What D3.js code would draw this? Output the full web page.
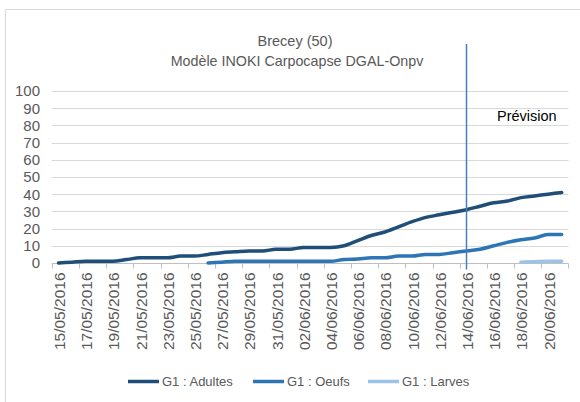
<!DOCTYPE html>
<html>
<head>
<meta charset="utf-8">
<script src="https://cdn.jsdelivr.net/npm/d3@7"></script>
<style>
  body { margin: 0; background: #fff; }
  svg { font-family: "Liberation Sans", Arial, sans-serif; }
</style>
</head>
<body>
<svg id="chart"></svg>
<script>
// categories: one per day
var dates = ["15/05/2016","16/05/2016","17/05/2016","18/05/2016","19/05/2016","20/05/2016",
  "21/05/2016","22/05/2016","23/05/2016","24/05/2016","25/05/2016","26/05/2016","27/05/2016",
  "28/05/2016","29/05/2016","30/05/2016","31/05/2016","01/06/2016","02/06/2016","03/06/2016",
  "04/06/2016","05/06/2016","06/06/2016","07/06/2016","08/06/2016","09/06/2016","10/06/2016",
  "11/06/2016","12/06/2016","13/06/2016","14/06/2016","15/06/2016","16/06/2016","17/06/2016",
  "18/06/2016","19/06/2016","20/06/2016","21/06/2016"];

// G1 : Adultes (from 15/05)
var adultes = [0, 0.5, 1, 1, 1, 2, 3, 3, 3, 4, 4, 5, 6, 6.5, 7, 7, 8, 8, 9, 9,
  9, 10, 13, 16, 18, 21, 24, 26.5, 28, 29.5, 31, 33, 35, 36, 38, 39, 40, 41];
// G1 : Oeufs (from 26/05)
var oeufsStart = 11;
var oeufs = [0, 0.5, 1, 1, 1, 1, 1, 1, 1, 1, 2, 2.3, 3, 3, 4, 4, 5, 5, 6, 7,
  8, 10, 12, 13.5, 14.5, 16.5, 16.5];
// G1 : Larves (from 18/06)
var larvesStart = 34;
var larves = [0.5, 0.8, 1, 1];

var yTicks = [0, 10, 20, 30, 40, 50, 60, 70, 80, 90, 100];
var forecastDate = "14/06/2016";

var width = 580, height = 402;
var margin = {top: 91, bottom: 139, left: 51.7, right: 11.5};

var svg = d3.select("#chart").attr("width", width).attr("height", height);

// chart frame (cropped on the right and bottom)
svg.append("rect")
  .attr("x", 5.5).attr("y", 9.5)
  .attr("width", 600).attr("height", 420)
  .attr("fill", "#fff").attr("stroke", "#d9d9d9");

var x = d3.scaleBand()
  .domain(dates)
  .range([margin.left, width - margin.right])
  .padding(0);

var y = d3.scaleLinear()
  .domain([0, 100])
  .range([height - margin.bottom, margin.top]);

function cx(d) { return x(d) + x.bandwidth() / 2; }

// grid
svg.append("g")
  .selectAll("line")
  .data(yTicks.filter(function(t){ return t > 0; }))
  .enter().append("line")
  .attr("x1", margin.left).attr("x2", width - margin.right)
  .attr("y1", function(d){ return Math.round(y(d)) + 0.5; })
  .attr("y2", function(d){ return Math.round(y(d)) + 0.5; })
  .attr("stroke", "#d9d9d9").attr("stroke-width", 1);

// y labels
svg.append("g")
  .selectAll("text")
  .data(yTicks)
  .enter().append("text")
  .attr("x", 40)
  .attr("y", function(d){ return y(d); })
  .attr("dy", "0.36em")
  .attr("text-anchor", "end")
  .attr("font-size", 15)
  .attr("fill", "#595959")
  .text(function(d){ return d; });

// x axis: ticks every two days, on category boundaries
var y0 = Math.round(y(0)) + 0.5;
var xAxisG = svg.append("g");
xAxisG.append("line")
  .attr("x1", margin.left).attr("x2", width - margin.right)
  .attr("y1", y0).attr("y2", y0)
  .attr("stroke", "#bfbfbf");
var tickDates = dates.filter(function(d, i){ return i % 2 == 0; });
xAxisG.selectAll("line.tick")
  .data(tickDates.concat(["end"]))
  .enter().append("line")
  .attr("class", "tick")
  .attr("x1", function(d){ return d == "end" ? width - margin.right : Math.round(x(d)) + 0.5; })
  .attr("x2", function(d){ return d == "end" ? width - margin.right : Math.round(x(d)) + 0.5; })
  .attr("y1", y0).attr("y2", y0 + 5)
  .attr("stroke", "#bfbfbf");
xAxisG.selectAll("text")
  .data(tickDates)
  .enter().append("text")
  .attr("transform", function(d){
    return "translate(" + (cx(d) + 1) + "," + (y0 + 9) + ") rotate(-90)";
  })
  .attr("text-anchor", "end")
  .attr("dy", "0.36em")
  .attr("font-size", 15.5)
  .attr("fill", "#595959")
  .text(function(d){ return d; });

// series
var series = [
  {name: "G1 : Adultes", color: "#1f4e79", start: 0, values: adultes},
  {name: "G1 : Oeufs", color: "#2e75b6", start: oeufsStart, values: oeufs},
  {name: "G1 : Larves", color: "#9dc3e6", start: larvesStart, values: larves}
];

var line = d3.line()
  .x(function(d){ return cx(d.date); })
  .y(function(d){ return y(d.value); })
  .curve(d3.curveMonotoneX);

series.forEach(function(s){
  var pts = s.values.map(function(v, i){ return {date: dates[s.start + i], value: v}; });
  svg.append("path")
    .datum(pts)
    .attr("d", line)
    .attr("fill", "none")
    .attr("stroke", s.color)
    .attr("stroke-width", 3.5)
    .attr("stroke-linecap", "round")
    .attr("stroke-linejoin", "round");
});

// forecast marker
svg.append("line")
  .attr("x1", cx(forecastDate)).attr("x2", cx(forecastDate))
  .attr("y1", 44).attr("y2", y0 + 6)
  .attr("stroke", "#4a7ebb").attr("stroke-width", 1.5);

svg.append("text")
  .attr("x", 497).attr("y", 121)
  .attr("font-size", 14.5)
  .attr("fill", "#000")
  .text("Prévision");

// titles
svg.append("text")
  .attr("x", 295).attr("y", 46)
  .attr("text-anchor", "middle")
  .attr("font-size", 14.5)
  .attr("fill", "#595959")
  .text("Brecey (50)");
svg.append("text")
  .attr("x", 297).attr("y", 65.5)
  .attr("text-anchor", "middle")
  .attr("font-size", 14.3)
  .attr("fill", "#595959")
  .text("Modèle INOKI Carpocapse DGAL-Onpv");

// legend
var legendX = [128, 253, 368];
var legend = svg.append("g")
  .selectAll("g")
  .data(series)
  .enter().append("g")
  .attr("transform", function(d, i){ return "translate(" + legendX[i] + ",381.5)"; });
legend.append("line")
  .attr("x1", 0).attr("x2", 31)
  .attr("stroke", function(d){ return d.color; })
  .attr("stroke-width", 3.5);
legend.append("text")
  .attr("x", 34)
  .attr("dy", "0.36em")
  .attr("font-size", 13)
  .attr("fill", "#595959")
  .text(function(d){ return d.name; });
</script>
</body>
</html>
